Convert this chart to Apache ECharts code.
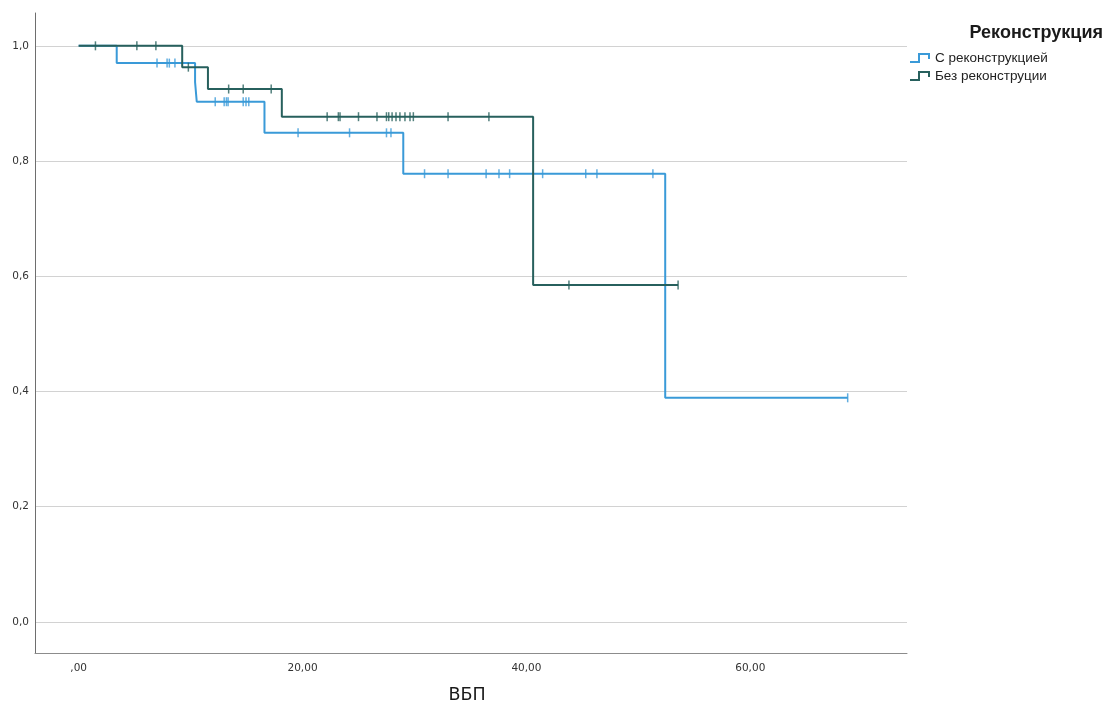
<!DOCTYPE html>
<html>
<head>
<meta charset="utf-8">
<script src="https://cdn.jsdelivr.net/npm/echarts@6/dist/echarts.min.js"></script>
<style>
  html, body { margin: 0; padding: 0; background: #fff; }
  #chart { width: 1108px; height: 708px; }
</style>
</head>
<body>
<div id="chart"></div>
<script>
// Kaplan–Meier estimates: event times (months) and survival after each step
const groupNames = ['С реконструкцией', 'Без реконструции'];

const timesWith = [0, 3.4, 10.4, 10.55, 16.6, 29.0, 52.4, 68.7];
const survWith  = [1.0, 0.970, 0.937, 0.903, 0.849, 0.778, 0.389, 0.389];
const censoredWith = [7.0, 7.9, 8.1, 8.6, 12.2, 13.0, 13.2, 13.35, 14.7, 14.95, 15.2,
  19.6, 24.2, 27.5, 27.9, 30.9, 33.0, 36.4, 37.55, 38.5, 41.45, 45.3, 46.3, 51.3, 68.7];

const timesWithout = [0, 9.25, 11.55, 18.15, 40.6, 53.55];
const survWithout  = [1.0, 0.963, 0.925, 0.877, 0.585, 0.585];
const censoredWithout = [1.5, 5.2, 6.9, 9.8, 13.4, 14.7, 17.2, 22.2, 23.2, 23.35, 25.0,
  26.65, 27.5, 27.7, 28.0, 28.35, 28.7, 29.15, 29.6, 29.9, 33.0, 36.65, 43.8, 53.55];

const yTicks = [0, 0.2, 0.4, 0.6, 0.8, 1.0];
const xTicks = [0, 20, 40, 60];

const colorWith = '#3a9ad8';
const colorWithout = '#27605d';

// survival level of a step curve at time t
function levelAt(times, surv, t) {
  let v = surv[0];
  for (let i = 0; i < times.length; i++) if (times[i] <= t) v = surv[i];
  return v;
}
const pairs = (xs, ys) => xs.map((x, i) => [x, ys[i]]);
const marks = (cs, times, surv) => cs.map(t => [t, levelAt(times, surv, t)]);

const stepIcon = 'path://M0,8 L8,8 L8,0 L20,0 L20,6 L18,6 L18,2 L10,2 L10,10 L0,10 Z';

const chart = echarts.init(document.getElementById('chart'), null, { renderer: 'canvas' });
chart.setOption({
  animation: false,
  backgroundColor: '#ffffff',
  title: {
    text: 'Реконструкция',
    right: 0, top: 19,
    textStyle: { fontFamily: 'Liberation Sans, Arial, sans-serif', fontSize: 18, fontWeight: 'bold', color: '#1a1a1a' }
  },
  legend: {
    data: groupNames.map(n => ({ name: n, icon: stepIcon })),
    orient: 'vertical',
    left: 910, top: 51,
    itemWidth: 20, itemHeight: 10, itemGap: 4,
    padding: 0,
    textStyle: { fontFamily: 'Liberation Sans, Arial, sans-serif', fontSize: 13.5, color: '#222' }
  },
  grid: { left: 35, right: 201, top: 13, bottom: 55, containLabel: false, outerBoundsMode: 'none' },
  xAxis: {
    type: 'value',
    min: -3.9, max: 74,
    name: 'ВБП',
    nameLocation: 'middle',
    nameGap: 33,
    nameTextStyle: { fontFamily: 'DejaVu Sans, sans-serif', fontSize: 17.5, color: '#1a1a1a', padding: [0, 8, 0, 0] },
    axisLine: { show: true, onZero: false, lineStyle: { color: '#8c8c8c', width: 1 } },
    axisTick: { show: false },
    splitLine: { show: false },
    axisLabel: {
      customValues: xTicks,
      margin: 10,
      fontFamily: 'DejaVu Sans, sans-serif', fontSize: 10.5, color: '#333',
      formatter: v => v === 0 ? ',00' : v.toFixed(2).replace('.', ',')
    }
  },
  yAxis: {
    type: 'value',
    min: -0.054, max: 1.057,
    axisLine: { show: true, onZero: false, lineStyle: { color: '#6e6e6e', width: 1 } },
    axisTick: { show: false, customValues: yTicks },
    splitLine: { show: true, lineStyle: { color: '#d2d2d2', width: 1 } },
    axisLabel: {
      customValues: yTicks,
      margin: 6,
      fontFamily: 'DejaVu Sans, sans-serif', fontSize: 10.5, color: '#333',
      formatter: v => v.toFixed(1).replace('.', ',')
    }
  },
  series: [
    {
      name: groupNames[0], type: 'line', step: 'end', symbol: 'none',
      data: pairs(timesWith, survWith),
      itemStyle: { color: colorWith },
      lineStyle: { color: colorWith, width: 2 },
      z: 3
    },
    {
      name: groupNames[1], type: 'line', step: 'end', symbol: 'none',
      data: pairs(timesWithout, survWithout),
      itemStyle: { color: colorWithout },
      lineStyle: { color: colorWithout, width: 2 },
      z: 4
    },
    {
      name: groupNames[0] + ' (цензур.)', type: 'scatter',
      symbol: 'rect', symbolSize: [1.5, 9],
      data: marks(censoredWith, timesWith, survWith),
      itemStyle: { color: colorWith },
      z: 5
    },
    {
      name: groupNames[1] + ' (цензур.)', type: 'scatter',
      symbol: 'rect', symbolSize: [1.5, 9],
      data: marks(censoredWithout, timesWithout, survWithout),
      itemStyle: { color: colorWithout },
      z: 6
    }
  ]
});
</script>
</body>
</html>
